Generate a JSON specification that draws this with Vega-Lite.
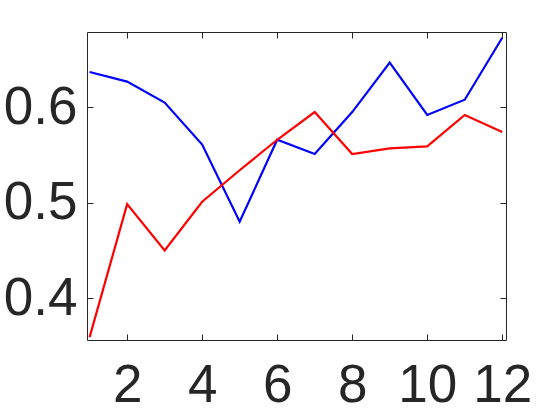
{
  "$schema": "https://vega.github.io/schema/vega-lite/v6.json",
  "width": 419,
  "height": 308,
  "autosize": "none",
  "padding": {"left": 87, "top": 32, "right": 54, "bottom": 80},
  "background": "white",
  "config": {
    "view": {"stroke": "#262626", "strokeWidth": 1},
    "axis": {
      "domain": false,
      "grid": false,
      "tickColor": "#262626",
      "tickSize": -6,
      "labelFont": "Liberation Sans",
      "labelFontSize": 53,
      "labelColor": "#262626",
      "title": null
    }
  },
  "data": {
    "values": [
      {"x": 1, "s": "blue", "y": 0.637},
      {"x": 2, "s": "blue", "y": 0.627},
      {"x": 3, "s": "blue", "y": 0.605},
      {"x": 4, "s": "blue", "y": 0.561},
      {"x": 5, "s": "blue", "y": 0.480},
      {"x": 6, "s": "blue", "y": 0.566},
      {"x": 7, "s": "blue", "y": 0.551},
      {"x": 8, "s": "blue", "y": 0.595},
      {"x": 9, "s": "blue", "y": 0.647},
      {"x": 10, "s": "blue", "y": 0.592},
      {"x": 11, "s": "blue", "y": 0.608},
      {"x": 12, "s": "blue", "y": 0.673},
      {"x": 1, "s": "red", "y": 0.359},
      {"x": 2, "s": "red", "y": 0.4985},
      {"x": 3, "s": "red", "y": 0.450},
      {"x": 4, "s": "red", "y": 0.501},
      {"x": 5, "s": "red", "y": 0.534},
      {"x": 6, "s": "red", "y": 0.566},
      {"x": 7, "s": "red", "y": 0.595},
      {"x": 8, "s": "red", "y": 0.551},
      {"x": 9, "s": "red", "y": 0.557},
      {"x": 10, "s": "red", "y": 0.559},
      {"x": 11, "s": "red", "y": 0.592},
      {"x": 12, "s": "red", "y": 0.574}
    ]
  },
  "layer": [
    {
      "mark": {"type": "line", "strokeWidth": 2.2, "clip": true},
      "encoding": {
        "x": {
          "field": "x", "type": "quantitative",
          "scale": {"domain": [0.93, 12.1], "nice": false, "zero": false},
          "axis": {"orient": "bottom", "values": [2, 4, 6, 8, 10, 12], "labelPadding": 25}
        },
        "y": {
          "field": "y", "type": "quantitative",
          "scale": {"domain": [0.356, 0.679], "nice": false, "zero": false},
          "axis": {"orient": "left", "values": [0.4, 0.5, 0.6], "format": ".1f", "labelPadding": 16}
        },
        "color": {
          "field": "s", "type": "nominal",
          "scale": {"domain": ["blue", "red"], "range": ["#0000FF", "#FF0000"]},
          "legend": null
        }
      }
    },
    {
      "mark": {"type": "line", "opacity": 0},
      "encoding": {
        "x": {
          "field": "x", "type": "quantitative",
          "axis": {"orient": "top", "values": [2, 4, 6, 8, 10, 12], "labels": false}
        },
        "y": {
          "field": "y", "type": "quantitative",
          "axis": {"orient": "right", "values": [0.4, 0.5, 0.6], "labels": false}
        },
        "detail": {"field": "s"}
      }
    }
  ],
  "resolve": {"axis": {"x": "independent", "y": "independent"}}
}
